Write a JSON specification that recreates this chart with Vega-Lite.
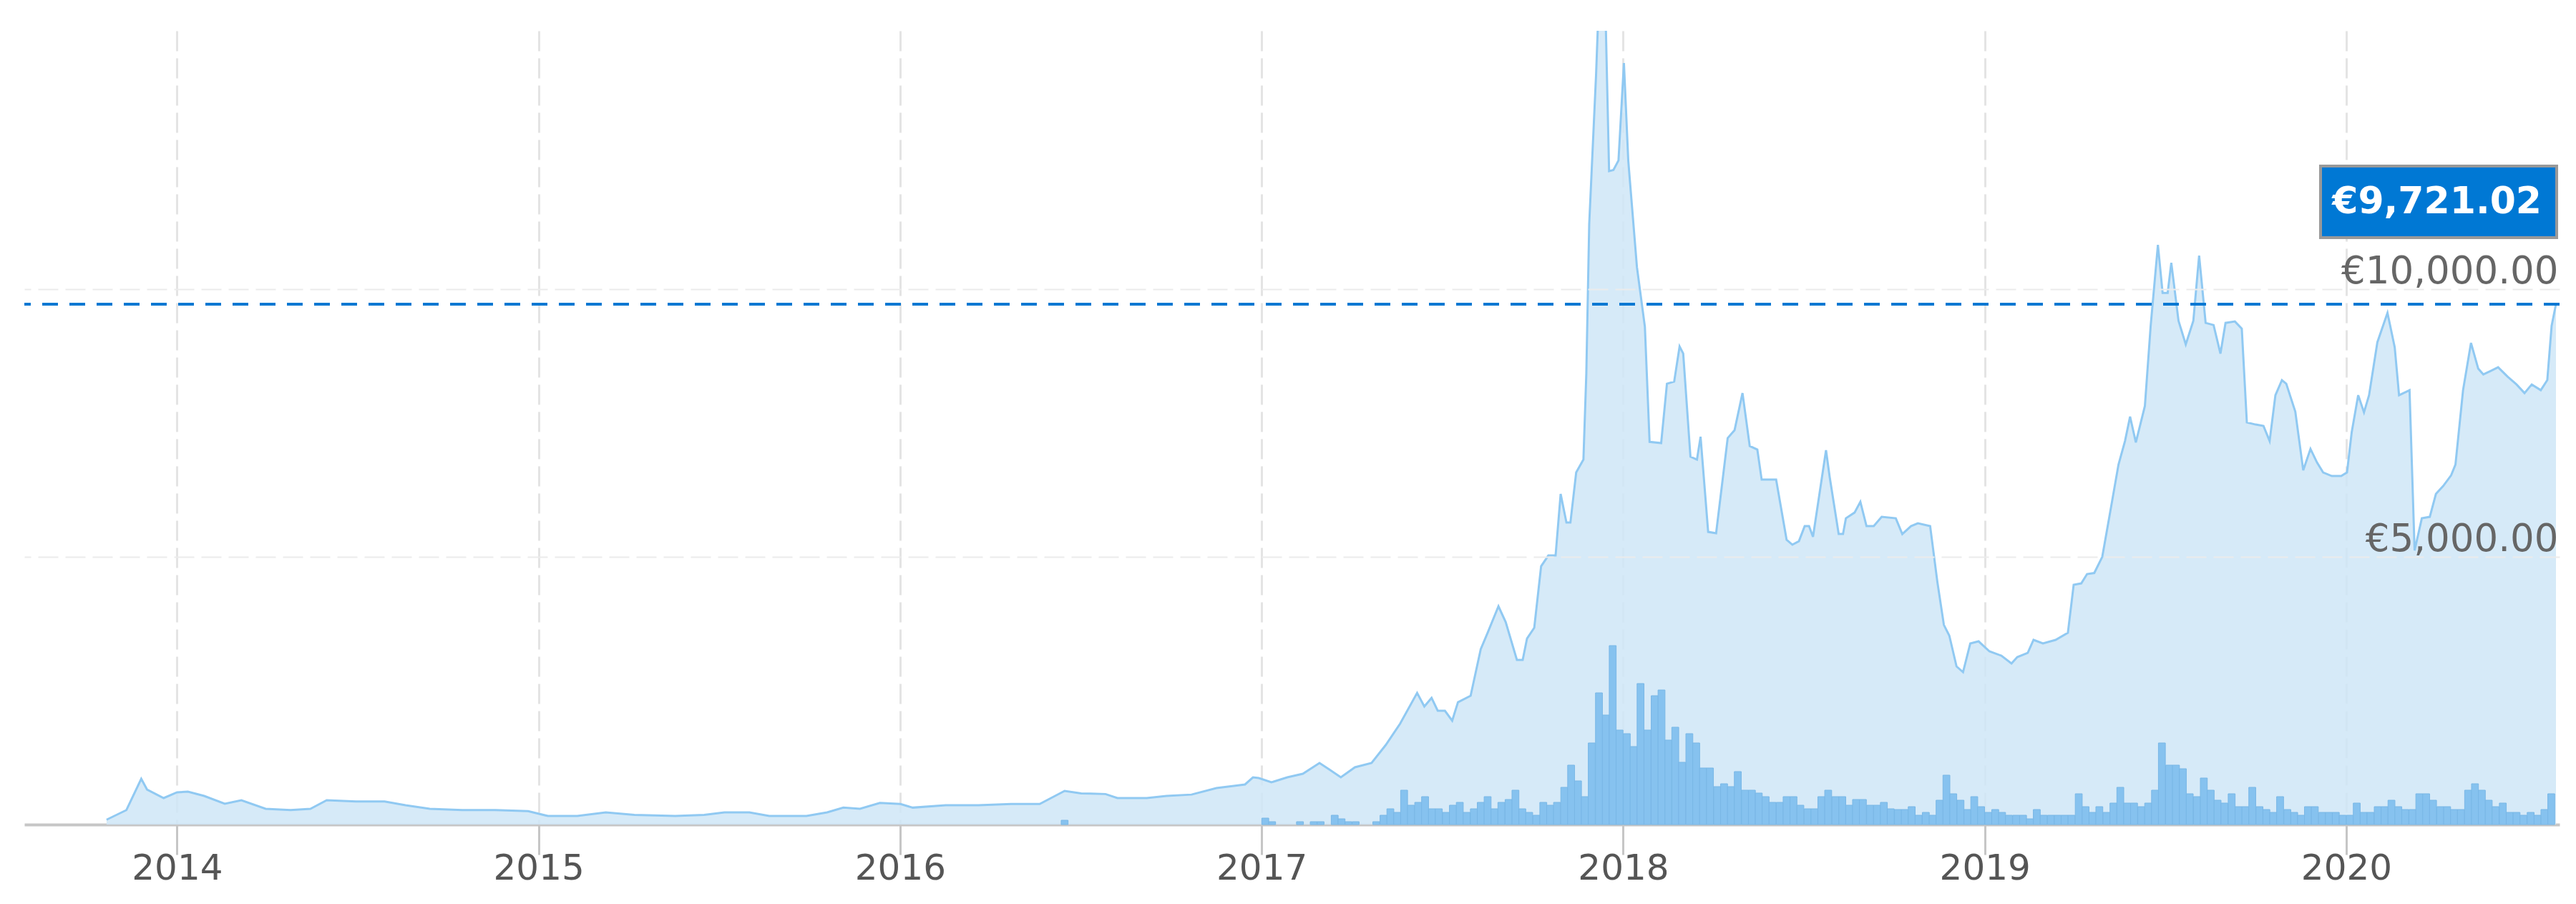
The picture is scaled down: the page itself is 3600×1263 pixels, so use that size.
{
"$schema":"https://vega.github.io/schema/vega-lite/v6.json",
"width":3543,"height":1109,
"autosize":{"type":"none"},
"padding":{"left":34,"top":43,"right":23,"bottom":111},
"background":"white",
"config":{"view":{"stroke":null}},
"datasets":{
"price":[
{"year":2013.805,"price":90},{"year":2013.860,"price":271},{"year":2013.901,"price":855},{"year":2013.917,"price":655},{"year":2013.963,"price":495},{"year":2014.000,"price":602},{"year":2014.030,"price":615},{"year":2014.075,"price":535},{"year":2014.132,"price":388},{"year":2014.178,"price":455},{"year":2014.245,"price":294},{"year":2014.314,"price":271},{"year":2014.369,"price":294},{"year":2014.414,"price":455},{"year":2014.495,"price":432},{"year":2014.574,"price":432},{"year":2014.632,"price":361},{"year":2014.699,"price":294},{"year":2014.789,"price":271},{"year":2014.880,"price":271},{"year":2014.971,"price":250},{"year":2015.026,"price":160},{"year":2015.107,"price":160},{"year":2015.186,"price":227},{"year":2015.265,"price":182},{"year":2015.378,"price":160},{"year":2015.458,"price":182},{"year":2015.514,"price":227},{"year":2015.583,"price":227},{"year":2015.638,"price":160},{"year":2015.741,"price":160},{"year":2015.798,"price":227},{"year":2015.843,"price":316},{"year":2015.889,"price":294},{"year":2015.944,"price":405},{"year":2016.001,"price":383},{"year":2016.035,"price":316},{"year":2016.126,"price":361},{"year":2016.216,"price":361},{"year":2016.307,"price":383},{"year":2016.386,"price":383},{"year":2016.455,"price":628},{"year":2016.501,"price":583},{"year":2016.568,"price":570},{"year":2016.601,"price":495},{"year":2016.682,"price":495},{"year":2016.737,"price":535},{"year":2016.806,"price":560},{"year":2016.875,"price":682},{"year":2016.923,"price":722},{"year":2016.954,"price":749},{"year":2016.976,"price":882},{"year":2016.992,"price":869},{"year":2017.027,"price":789},{"year":2017.071,"price":882},{"year":2017.114,"price":949},{"year":2017.160,"price":1150},{"year":2017.187,"price":1030},{"year":2017.219,"price":882},{"year":2017.258,"price":1070},{"year":2017.304,"price":1150},{"year":2017.343,"price":1484},{"year":2017.383,"price":1885},{"year":2017.430,"price":2460},{"year":2017.450,"price":2206},{"year":2017.470,"price":2366},{"year":2017.487,"price":2126},{"year":2017.507,"price":2126},{"year":2017.527,"price":1939},{"year":2017.543,"price":2286},{"year":2017.578,"price":2407},{"year":2017.606,"price":3276},{"year":2017.625,"price":3583},{"year":2017.655,"price":4078},{"year":2017.675,"price":3783},{"year":2017.706,"price":3075},{"year":2017.722,"price":3075},{"year":2017.734,"price":3476},{"year":2017.754,"price":3677},{"year":2017.773,"price":4826},{"year":2017.793,"price":5027},{"year":2017.813,"price":5027},{"year":2017.827,"price":6177},{"year":2017.843,"price":5642},{"year":2017.854,"price":5642},{"year":2017.870,"price":6578},{"year":2017.890,"price":6819},{"year":2017.898,"price":8423},{"year":2017.906,"price":11217},{"year":2017.925,"price":14012},{"year":2017.937,"price":16200},{"year":2017.949,"price":15800},{"year":2017.961,"price":12207},{"year":2017.973,"price":12230},{"year":2017.987,"price":12407},{"year":2018.002,"price":14226},{"year":2018.014,"price":12407},{"year":2018.038,"price":10415},{"year":2018.060,"price":9300},{"year":2018.073,"price":7150},{"year":2018.105,"price":7126},{"year":2018.121,"price":8236},{"year":2018.141,"price":8276},{"year":2018.156,"price":8931},{"year":2018.166,"price":8800},{"year":2018.186,"price":6872},{"year":2018.204,"price":6818},{"year":2018.214,"price":7246},{"year":2018.235,"price":5468},{"year":2018.257,"price":5442},{"year":2018.289,"price":7220},{"year":2018.308,"price":7367},{"year":2018.330,"price":8062},{"year":2018.350,"price":7072},{"year":2018.371,"price":7006},{"year":2018.383,"price":6444},{"year":2018.423,"price":6444},{"year":2018.452,"price":5321},{"year":2018.468,"price":5228},{"year":2018.486,"price":5294},{"year":2018.502,"price":5575},{"year":2018.514,"price":5575},{"year":2018.525,"price":5375},{"year":2018.561,"price":6993},{"year":2018.571,"price":6500},{"year":2018.596,"price":5428},{"year":2018.608,"price":5428},{"year":2018.616,"price":5722},{"year":2018.640,"price":5829},{"year":2018.656,"price":6030},{"year":2018.673,"price":5575},{"year":2018.693,"price":5575},{"year":2018.715,"price":5749},{"year":2018.754,"price":5722},{"year":2018.772,"price":5428},{"year":2018.796,"price":5575},{"year":2018.815,"price":5629},{"year":2018.849,"price":5575},{"year":2018.869,"price":4532},{"year":2018.887,"price":3730},{"year":2018.902,"price":3530},{"year":2018.922,"price":2955},{"year":2018.940,"price":2848},{"year":2018.960,"price":3383},{"year":2018.983,"price":3423},{"year":2019.013,"price":3236},{"year":2019.046,"price":3155},{"year":2019.074,"price":3008},{"year":2019.090,"price":3129},{"year":2019.119,"price":3209},{"year":2019.135,"price":3450},{"year":2019.161,"price":3383},{"year":2019.196,"price":3450},{"year":2019.230,"price":3583},{"year":2019.246,"price":4479},{"year":2019.267,"price":4506},{"year":2019.283,"price":4680},{"year":2019.303,"price":4700},{"year":2019.325,"price":5000},{"year":2019.344,"price":5722},{"year":2019.370,"price":6725},{"year":2019.388,"price":7166},{"year":2019.402,"price":7621},{"year":2019.418,"price":7140},{"year":2019.443,"price":7821},{"year":2019.459,"price":9319},{"year":2019.479,"price":10830},{"year":2019.492,"price":9934},{"year":2019.506,"price":9934},{"year":2019.516,"price":10495},{"year":2019.536,"price":9413},{"year":2019.556,"price":8971},{"year":2019.577,"price":9413},{"year":2019.593,"price":10629},{"year":2019.611,"price":9372},{"year":2019.633,"price":9332},{"year":2019.652,"price":8798},{"year":2019.666,"price":9372},{"year":2019.692,"price":9399},{"year":2019.711,"price":9265},{"year":2019.725,"price":7514},{"year":2019.749,"price":7474},{"year":2019.771,"price":7447},{"year":2019.788,"price":7166},{"year":2019.804,"price":8022},{"year":2019.822,"price":8303},{"year":2019.834,"price":8236},{"year":2019.859,"price":7715},{"year":2019.881,"price":6618},{"year":2019.901,"price":7019},{"year":2019.919,"price":6765},{"year":2019.936,"price":6578},{"year":2019.960,"price":6511},{"year":2019.986,"price":6511},{"year":2020.002,"price":6578},{"year":2020.015,"price":7327},{"year":2020.033,"price":8022},{"year":2020.049,"price":7701},{"year":2020.063,"price":8022},{"year":2020.086,"price":9011},{"year":2020.114,"price":9560},{"year":2020.134,"price":8918},{"year":2020.146,"price":8022},{"year":2020.167,"price":8089},{"year":2020.175,"price":8116},{"year":2020.189,"price":5121},{"year":2020.209,"price":5722},{"year":2020.231,"price":5749},{"year":2020.248,"price":6177},{"year":2020.268,"price":6324},{"year":2020.290,"price":6524},{"year":2020.302,"price":6725},{"year":2020.323,"price":8116},{"year":2020.345,"price":8998},{"year":2020.365,"price":8517},{"year":2020.379,"price":8410},{"year":2020.400,"price":8477},{"year":2020.420,"price":8543},{"year":2020.446,"price":8370},{"year":2020.471,"price":8222},{"year":2020.493,"price":8062},{"year":2020.513,"price":8222},{"year":2020.538,"price":8116},{"year":2020.556,"price":8303},{"year":2020.568,"price":9319},{"year":2020.580,"price":9721.02}
],
"volume":[
{"year":2016.455,"volume":6},
{"year":2017.010,"volume":9},{"year":2017.029,"volume":4},{"year":2017.106,"volume":4},{"year":2017.144,"volume":4},{"year":2017.163,"volume":4},{"year":2017.202,"volume":13},{"year":2017.221,"volume":8},{"year":2017.240,"volume":4},{"year":2017.260,"volume":4},{"year":2017.317,"volume":4},{"year":2017.337,"volume":13},{"year":2017.356,"volume":22},{"year":2017.375,"volume":17},{"year":2017.394,"volume":48},{"year":2017.413,"volume":27},{"year":2017.433,"volume":31},{"year":2017.452,"volume":39},{"year":2017.471,"volume":22},{"year":2017.490,"volume":22},{"year":2017.510,"volume":17},{"year":2017.529,"volume":27},{"year":2017.548,"volume":31},{"year":2017.567,"volume":17},{"year":2017.587,"volume":22},{"year":2017.606,"volume":31},{"year":2017.625,"volume":39},{"year":2017.644,"volume":22},{"year":2017.663,"volume":31},{"year":2017.683,"volume":35},{"year":2017.702,"volume":48},{"year":2017.721,"volume":22},{"year":2017.740,"volume":17},{"year":2017.760,"volume":13},{"year":2017.779,"volume":31},{"year":2017.798,"volume":27},{"year":2017.817,"volume":31},{"year":2017.837,"volume":52},{"year":2017.856,"volume":83},{"year":2017.875,"volume":61},{"year":2017.894,"volume":39},{"year":2017.913,"volume":114},{"year":2017.933,"volume":184},{"year":2017.952,"volume":153},{"year":2017.971,"volume":250},{"year":2017.990,"volume":132},
{"year":2018.010,"volume":127},{"year":2018.029,"volume":109},{"year":2018.048,"volume":197},{"year":2018.067,"volume":132},{"year":2018.087,"volume":180},{"year":2018.106,"volume":188},{"year":2018.125,"volume":118},{"year":2018.144,"volume":136},{"year":2018.163,"volume":87},{"year":2018.183,"volume":127},{"year":2018.202,"volume":114},{"year":2018.221,"volume":79},{"year":2018.240,"volume":79},{"year":2018.260,"volume":53},{"year":2018.279,"volume":57},{"year":2018.298,"volume":53},{"year":2018.317,"volume":74},{"year":2018.337,"volume":48},{"year":2018.356,"volume":48},{"year":2018.375,"volume":44},{"year":2018.394,"volume":39},{"year":2018.413,"volume":31},{"year":2018.433,"volume":31},{"year":2018.452,"volume":39},{"year":2018.471,"volume":39},{"year":2018.490,"volume":27},{"year":2018.510,"volume":22},{"year":2018.529,"volume":22},{"year":2018.548,"volume":39},{"year":2018.567,"volume":48},{"year":2018.587,"volume":39},{"year":2018.606,"volume":39},{"year":2018.625,"volume":27},{"year":2018.644,"volume":35},{"year":2018.663,"volume":35},{"year":2018.683,"volume":27},{"year":2018.702,"volume":27},{"year":2018.721,"volume":31},{"year":2018.740,"volume":22},{"year":2018.760,"volume":21},{"year":2018.779,"volume":21},{"year":2018.798,"volume":25},{"year":2018.817,"volume":13},{"year":2018.837,"volume":17},{"year":2018.856,"volume":13},{"year":2018.875,"volume":34},{"year":2018.894,"volume":69},{"year":2018.913,"volume":43},{"year":2018.933,"volume":34},{"year":2018.952,"volume":21},{"year":2018.971,"volume":39},{"year":2018.990,"volume":25},
{"year":2019.010,"volume":17},{"year":2019.029,"volume":21},{"year":2019.048,"volume":17},{"year":2019.067,"volume":13},{"year":2019.087,"volume":13},{"year":2019.106,"volume":13},{"year":2019.125,"volume":8},{"year":2019.144,"volume":21},{"year":2019.163,"volume":13},{"year":2019.183,"volume":13},{"year":2019.202,"volume":13},{"year":2019.221,"volume":13},{"year":2019.240,"volume":13},{"year":2019.260,"volume":43},{"year":2019.279,"volume":25},{"year":2019.298,"volume":17},{"year":2019.317,"volume":25},{"year":2019.337,"volume":17},{"year":2019.356,"volume":30},{"year":2019.375,"volume":52},{"year":2019.394,"volume":30},{"year":2019.413,"volume":30},{"year":2019.433,"volume":25},{"year":2019.452,"volume":30},{"year":2019.471,"volume":48},{"year":2019.490,"volume":114},{"year":2019.510,"volume":83},{"year":2019.529,"volume":83},{"year":2019.548,"volume":78},{"year":2019.567,"volume":43},{"year":2019.587,"volume":39},{"year":2019.606,"volume":65},{"year":2019.625,"volume":48},{"year":2019.644,"volume":34},{"year":2019.663,"volume":30},{"year":2019.683,"volume":43},{"year":2019.702,"volume":25},{"year":2019.721,"volume":25},{"year":2019.740,"volume":52},{"year":2019.760,"volume":25},{"year":2019.779,"volume":21},{"year":2019.798,"volume":17},{"year":2019.817,"volume":39},{"year":2019.837,"volume":21},{"year":2019.856,"volume":17},{"year":2019.875,"volume":13},{"year":2019.894,"volume":25},{"year":2019.913,"volume":25},{"year":2019.933,"volume":17},{"year":2019.952,"volume":17},{"year":2019.971,"volume":17},{"year":2019.990,"volume":13},
{"year":2020.010,"volume":13},{"year":2020.029,"volume":30},{"year":2020.048,"volume":17},{"year":2020.067,"volume":17},{"year":2020.087,"volume":25},{"year":2020.106,"volume":25},{"year":2020.125,"volume":34},{"year":2020.144,"volume":25},{"year":2020.163,"volume":21},{"year":2020.183,"volume":21},{"year":2020.202,"volume":43},{"year":2020.221,"volume":43},{"year":2020.240,"volume":34},{"year":2020.260,"volume":25},{"year":2020.279,"volume":25},{"year":2020.298,"volume":21},{"year":2020.317,"volume":21},{"year":2020.337,"volume":48},{"year":2020.356,"volume":57},{"year":2020.375,"volume":48},{"year":2020.394,"volume":34},{"year":2020.413,"volume":25},{"year":2020.433,"volume":30},{"year":2020.452,"volume":17},{"year":2020.471,"volume":17},{"year":2020.490,"volume":13},{"year":2020.510,"volume":17},{"year":2020.529,"volume":13},{"year":2020.548,"volume":21},{"year":2020.567,"volume":43}
],
"last":[{"year":2020.580,"price":9721.02,"label":"€9,721.02"}]
},
"resolve":{"scale":{"y":"independent"}},
"layer":[
{"data":{"name":"price"},
 "mark":{"type":"area","clip":true,"color":"#cfe6f7","opacity":0.85},
 "encoding":{
  "x":{"field":"year","type":"quantitative","title":null,"scale":{"domain":[2013.5875,2020.58],"nice":false,"zero":false},
   "axis":{"values":[2014,2015,2016,2017,2018,2019,2020],"format":"d","title":null,"domain":true,"domainColor":"#c6c6c6","domainWidth":4,"ticks":true,"tickColor":"#c6c6c6","tickWidth":3,"tickSize":42,"labelFont":"DejaVu Sans","labelFontSize":50,"labelColor":"#555555","labelPadding":19,"labelBaseline":"middle","labelFlush":false,"labelOverlap":false,"grid":true,"gridColor":"#e4e4e4","gridWidth":3,"gridDash":[28,10],"zindex":0}},
  "y":{"field":"price","type":"quantitative","title":null,"scale":{"domain":[0,14830],"nice":false,"zero":true},
   "axis":{"orient":"right","values":[5000,10000],"labelExpr":"'€' + format(datum.value, ',.2f')","title":null,"domain":false,"ticks":false,"tickSize":0,"labelAlign":"right","labelPadding":-2,"labelBaseline":"alphabetic","labelOffset":-9,"labelLimit":0,"labelFont":"DejaVu Sans","labelFontSize":53,"labelColor":"#666666","grid":true,"gridColor":"#ebebeb","gridWidth":2,"gridDash":[28,10],"zindex":1}}
 }},
{"data":{"name":"volume"},
 "mark":{"type":"bar","width":9.7,"color":"#86c2ef","stroke":"#79b7e6","strokeWidth":1},
 "encoding":{
  "x":{"field":"year","type":"quantitative","title":null,"scale":{"domain":[2013.5875,2020.58],"nice":false,"zero":false}},
  "y":{"field":"volume","type":"quantitative","title":null,"scale":{"domain":[0,1109],"nice":false},"axis":null}
 }},
{"data":{"name":"price"},
 "mark":{"type":"line","clip":true,"color":"#90c9f2","strokeWidth":3},
 "encoding":{
  "x":{"field":"year","type":"quantitative","title":null,"scale":{"domain":[2013.5875,2020.58],"nice":false,"zero":false}},
  "y":{"field":"price","type":"quantitative","title":null,"scale":{"domain":[0,14830],"nice":false,"zero":true},"axis":null}
 }},
{"data":{"name":"last"},
 "mark":{"type":"rule","color":"#0a78d2","strokeWidth":4,"strokeDash":[22,16]},
 "encoding":{
  "y":{"field":"price","type":"quantitative","title":null,"scale":{"domain":[0,14830],"nice":false,"zero":true},"axis":null}
 }},
{"data":{"name":"last"},
 "mark":{"type":"rect","fill":"#0078d4","stroke":"#999999","strokeWidth":4,"xOffset":-329,"x2Offset":1,"yOffset":-193,"y2Offset":-93},
 "encoding":{
  "x":{"field":"year","type":"quantitative","title":null,"scale":{"domain":[2013.5875,2020.58],"nice":false,"zero":false}},
  "x2":{"field":"year"},
  "y":{"field":"price","type":"quantitative","title":null,"scale":{"domain":[0,14830],"nice":false,"zero":true},"axis":null},
  "y2":{"field":"price"}
 }},
{"data":{"name":"last"},
 "mark":{"type":"text","align":"right","baseline":"middle","dx":-20,"dy":-143,"font":"DejaVu Sans","fontWeight":"bold","fontSize":52,"color":"white"},
 "encoding":{
  "x":{"field":"year","type":"quantitative","title":null,"scale":{"domain":[2013.5875,2020.58],"nice":false,"zero":false}},
  "y":{"field":"price","type":"quantitative","title":null,"scale":{"domain":[0,14830],"nice":false,"zero":true},"axis":null},
  "text":{"field":"label"}
 }}
]
}
